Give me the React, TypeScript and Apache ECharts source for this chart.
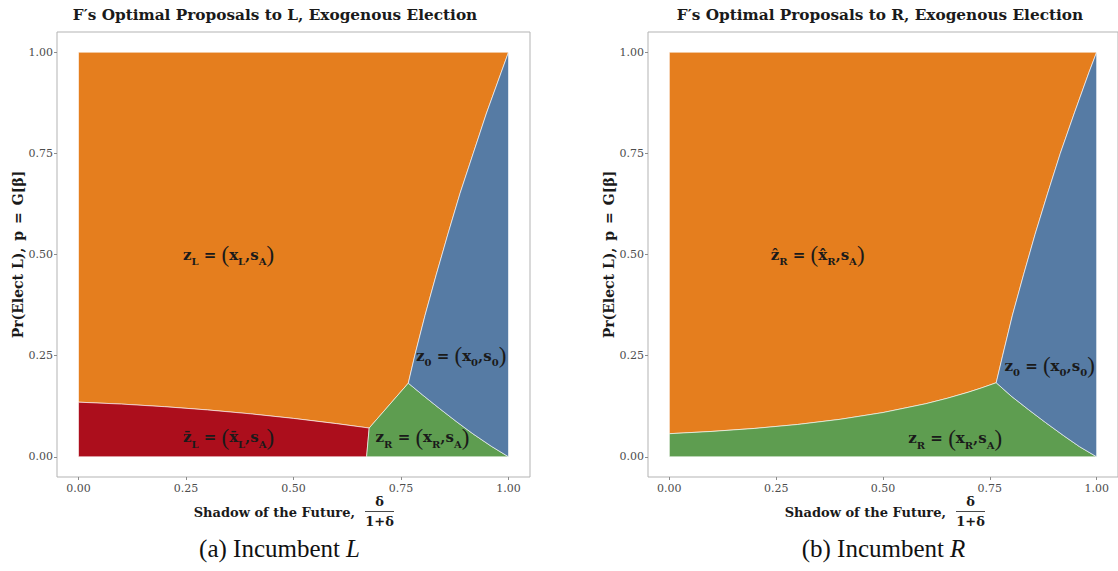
import React, { useEffect, useRef } from "react";
import * as echarts from "echarts";

// ---------- axis / text content ----------
const TICKS = [0, 0.25, 0.5, 0.75, 1];
const AXIS_MIN = -0.05;
const AXIS_MAX = 1.05;

const PANEL_TITLES = [
  "F\u2032s Optimal Proposals to L, Exogenous Election",
  "F\u2032s Optimal Proposals to R, Exogenous Election",
];
const CAPTION_PREFIX = ["(a) Incumbent", "(b) Incumbent"];
const CAPTION_ITALIC = ["L", "R"];
const X_TITLE = "Shadow of the Future,";
const Y_TITLE = "Pr(Elect L),\u2002p\u2002=\u2002G[\u03b2]";

// ---------- panel (a): region boundaries [x, y] ----------
const aRedTop = [
  [0, 0.135], [0.1, 0.1302], [0.2, 0.1238], [0.3, 0.1158], [0.4, 0.1061],
  [0.5, 0.0948], [0.6, 0.0819], [0.676, 0.071],
];
const aRedBaseRight = [0.67, 0];
const aOrangeBlue = [
  [0.767, 0.182], [0.782, 0.25], [0.806, 0.35], [0.832, 0.45], [0.859, 0.55],
  [0.887, 0.65], [0.918, 0.75], [0.949, 0.85], [0.983, 0.95], [1, 1],
];
const aGreenBlue = [
  [0.767, 0.182], [0.8, 0.153], [0.84, 0.119], [0.88, 0.086], [0.917, 0.057],
  [0.96, 0.026], [1, 0],
];

// ---------- panel (b): region boundaries [x, y] ----------
const bGreenTop = [
  [0, 0.057], [0.1, 0.0627], [0.2, 0.0701], [0.3, 0.0798], [0.4, 0.0926],
  [0.5, 0.1093], [0.6, 0.1311], [0.65, 0.1445], [0.7, 0.1598], [0.73, 0.17],
  [0.765, 0.183],
];
const bOrangeBlue = [
  [0.765, 0.183], [0.78, 0.25], [0.803, 0.35], [0.829, 0.45], [0.856, 0.55],
  [0.885, 0.65], [0.915, 0.75], [0.948, 0.85], [0.982, 0.95], [1, 1],
];
const bGreenBlue = [
  [0.765, 0.183], [0.8, 0.15], [0.84, 0.117], [0.88, 0.085], [0.923, 0.052],
  [0.96, 0.025], [1, 0],
];

// ---------- region labels ----------
const aLabelPos = [[0.349, 0.5], [0.349, 0.048], [0.8, 0.048], [0.89, 0.25]];
const aLabelText = [
  "{m|z}{s|L}{m| = }{p|(}{m|x}{s|L}{m|,s}{s|A}{p|)}",
  "{m|z\u0304}{s|L}{m| = }{p|(}{m|x\u0304}{s|L}{m|,s}{s|A}{p|)}",
  "{m|z}{s|R}{m| = }{p|(}{m|x}{s|R}{m|,s}{s|A}{p|)}",
  "{m|z}{s|0}{m| = }{p|(}{m|x}{s|0}{m|,s}{s|0}{p|)}",
];
const bLabelPos = [[0.347, 0.5], [0.669, 0.046], [0.89, 0.225]];
const bLabelText = [
  "{m|\u1e91}{s|R}{m| = }{p|(}{m|x\u0302}{s|R}{m|,s}{s|A}{p|)}",
  "{m|z}{s|R}{m| = }{p|(}{m|x}{s|R}{m|,s}{s|A}{p|)}",
  "{m|z}{s|0}{m| = }{p|(}{m|x}{s|0}{m|,s}{s|0}{p|)}",
];

// ---------- colours ----------
const ORANGE = "#E57E1E";
const RED = "#AC0E1C";
const GREEN = "#5E9D50";
const BLUE = "#567BA4";

const rev = (a: number[][]) => a.slice().reverse();

const aPolys = [
  { color: ORANGE, pts: [[0, 1], ...rev(aOrangeBlue), ...rev(aRedTop)] },
  { color: RED, pts: [[0, 0], aRedBaseRight, ...rev(aRedTop)] },
  { color: GREEN, pts: [aRedBaseRight, ...rev(aGreenBlue), aRedTop[aRedTop.length - 1]] },
  { color: BLUE, pts: [...rev(aOrangeBlue), ...aGreenBlue.slice(1)] },
];
const bPolys = [
  { color: ORANGE, pts: [[0, 1], ...rev(bOrangeBlue), ...rev(bGreenTop).slice(1)] },
  { color: GREEN, pts: [[0, 0], ...rev(bGreenBlue), ...rev(bGreenTop).slice(1)] },
  { color: BLUE, pts: [...rev(bOrangeBlue), ...bGreenBlue.slice(1)] },
];

const SERIF = "DejaVu Serif";
const ROMAN = "Liberation Serif";
const TEXT_COLOR = "#1a1a1a";

const rich = {
  m: { fontFamily: SERIF, fontWeight: "bold", fontSize: 15, fill: TEXT_COLOR, lineHeight: 24 },
  s: { fontFamily: SERIF, fontWeight: "bold", fontSize: 10, fill: TEXT_COLOR, lineHeight: 14, verticalAlign: "bottom" },
  p: { fontFamily: ROMAN, fontWeight: "normal", fontSize: 23, fill: TEXT_COLOR, lineHeight: 24 },
};

function polySeries(idx: number, pts: number[][], color: string) {
  return {
    type: "custom",
    xAxisIndex: idx,
    yAxisIndex: idx,
    silent: true,
    clip: false,
    data: pts,
    encode: { x: 0, y: 1 },
    renderItem: (params: any, api: any) => {
      if (params.dataIndex !== 0) return null;
      const points = pts.map((p) => api.coord(p));
      return {
        type: "polygon",
        shape: { points },
        style: { fill: color, stroke: "#ffffff", lineWidth: 0.6 },
      };
    },
  };
}

function labelSeries(idx: number, pos: number[][], texts: string[]) {
  return {
    type: "custom",
    xAxisIndex: idx,
    yAxisIndex: idx,
    silent: true,
    clip: false,
    z: 5,
    data: pos,
    encode: { x: 0, y: 1 },
    renderItem: (params: any, api: any) => {
      const c = api.coord([api.value(0), api.value(1)]);
      return {
        type: "text",
        x: c[0],
        y: c[1],
        style: {
          text: texts[params.dataIndex],
          fontFamily: SERIF,
          fontSize: 15,
          align: "center",
          verticalAlign: "middle",
          rich,
        },
      };
    },
  };
}

const GRID_LEFT = [57, 648];
const GRID_TOP = 32;
const GRID_W = 473;
const GRID_H = 445;

function makeAxis(idx: number, isX: boolean) {
  return {
    type: "value",
    gridIndex: idx,
    min: AXIS_MIN,
    max: AXIS_MAX,
    axisLine: { show: false, onZero: false },
    splitLine: { show: false },
    axisTick: {
      show: true,
      length: 3,
      lineStyle: { color: "#8c8c8c", width: 1 },
      customValues: TICKS,
    },
    axisLabel: {
      customValues: TICKS,
      formatter: (v: number) => v.toFixed(2),
      fontFamily: SERIF,
      fontSize: 11,
      color: "#4d4d4d",
      margin: isX ? 6 : 4,
    },
  };
}

export default function App() {
  const ref = useRef<HTMLDivElement>(null);
  useEffect(() => {
    if (!ref.current) return;
    const chart = echarts.init(ref.current, undefined, { renderer: "svg" });

    const graphics: any[] = [];
    [0, 1].forEach((i) => {
      const off = GRID_LEFT[i] - GRID_LEFT[0];
      graphics.push({
        type: "text",
        x: i === 0 ? 275 : 880,
        y: 15,
        style: {
          text: PANEL_TITLES[i],
          fontFamily: SERIF,
          fontWeight: "bold",
          fontSize: 15.3,
          fill: TEXT_COLOR,
          align: "center",
          verticalAlign: "middle",
        },
      });
      graphics.push({
        type: "text",
        x: 18 + off,
        y: 254.5,
        rotation: Math.PI / 2,
        style: {
          text: Y_TITLE,
          fontFamily: SERIF,
          fontWeight: "bold",
          fontSize: 14,
          fill: TEXT_COLOR,
          align: "center",
          verticalAlign: "middle",
        },
      });
      graphics.push({
        type: "text",
        x: 355 + off,
        y: 512,
        style: {
          text: X_TITLE,
          fontFamily: SERIF,
          fontWeight: "bold",
          fontSize: 13,
          fill: TEXT_COLOR,
          align: "right",
          verticalAlign: "middle",
        },
      });
      graphics.push({
        type: "text",
        x: 379.5 + off,
        y: 501.5,
        style: {
          text: "\u03b4",
          fontFamily: SERIF,
          fontWeight: "bold",
          fontSize: 13,
          fill: TEXT_COLOR,
          align: "center",
          verticalAlign: "middle",
        },
      });
      graphics.push({
        type: "line",
        shape: { x1: 365 + off, y1: 511.5, x2: 394 + off, y2: 511.5 },
        style: { stroke: TEXT_COLOR, lineWidth: 0.8 },
      });
      graphics.push({
        type: "text",
        x: 379.5 + off,
        y: 521,
        style: {
          text: "1+\u03b4",
          fontFamily: SERIF,
          fontWeight: "bold",
          fontSize: 13,
          fill: TEXT_COLOR,
          align: "center",
          verticalAlign: "middle",
        },
      });
      const capSplit = i === 0 ? 340 : 944;
      graphics.push({
        type: "text",
        x: capSplit,
        y: 548,
        style: {
          text: CAPTION_PREFIX[i],
          fontFamily: ROMAN,
          fontSize: 25,
          fill: "#111111",
          align: "right",
          verticalAlign: "middle",
        },
      });
      graphics.push({
        type: "text",
        x: capSplit + 6,
        y: 548,
        style: {
          text: CAPTION_ITALIC[i],
          fontFamily: ROMAN,
          fontStyle: "italic",
          fontSize: 25,
          fill: "#111111",
          align: "left",
          verticalAlign: "middle",
        },
      });
    });

    const option: any = {
      animation: false,
      backgroundColor: "#ffffff",
      grid: [0, 1].map((i) => ({
        left: GRID_LEFT[i],
        top: GRID_TOP,
        width: GRID_W,
        height: GRID_H,
        show: true,
        borderColor: "#b3b3b3",
        borderWidth: 1,
        backgroundColor: "transparent",
      })),
      xAxis: [makeAxis(0, true), makeAxis(1, true)],
      yAxis: [makeAxis(0, false), makeAxis(1, false)],
      series: [
        ...aPolys.map((p) => polySeries(0, p.pts, p.color)),
        ...bPolys.map((p) => polySeries(1, p.pts, p.color)),
        labelSeries(0, aLabelPos, aLabelText),
        labelSeries(1, bLabelPos, bLabelText),
      ],
      graphic: graphics,
    };
    chart.setOption(option);
    return () => chart.dispose();
  }, []);

  return (
    <div
      ref={ref}
      style={{ position: "fixed", left: 0, top: 0, width: 1118, height: 571, background: "#fff" }}
    />
  );
}
